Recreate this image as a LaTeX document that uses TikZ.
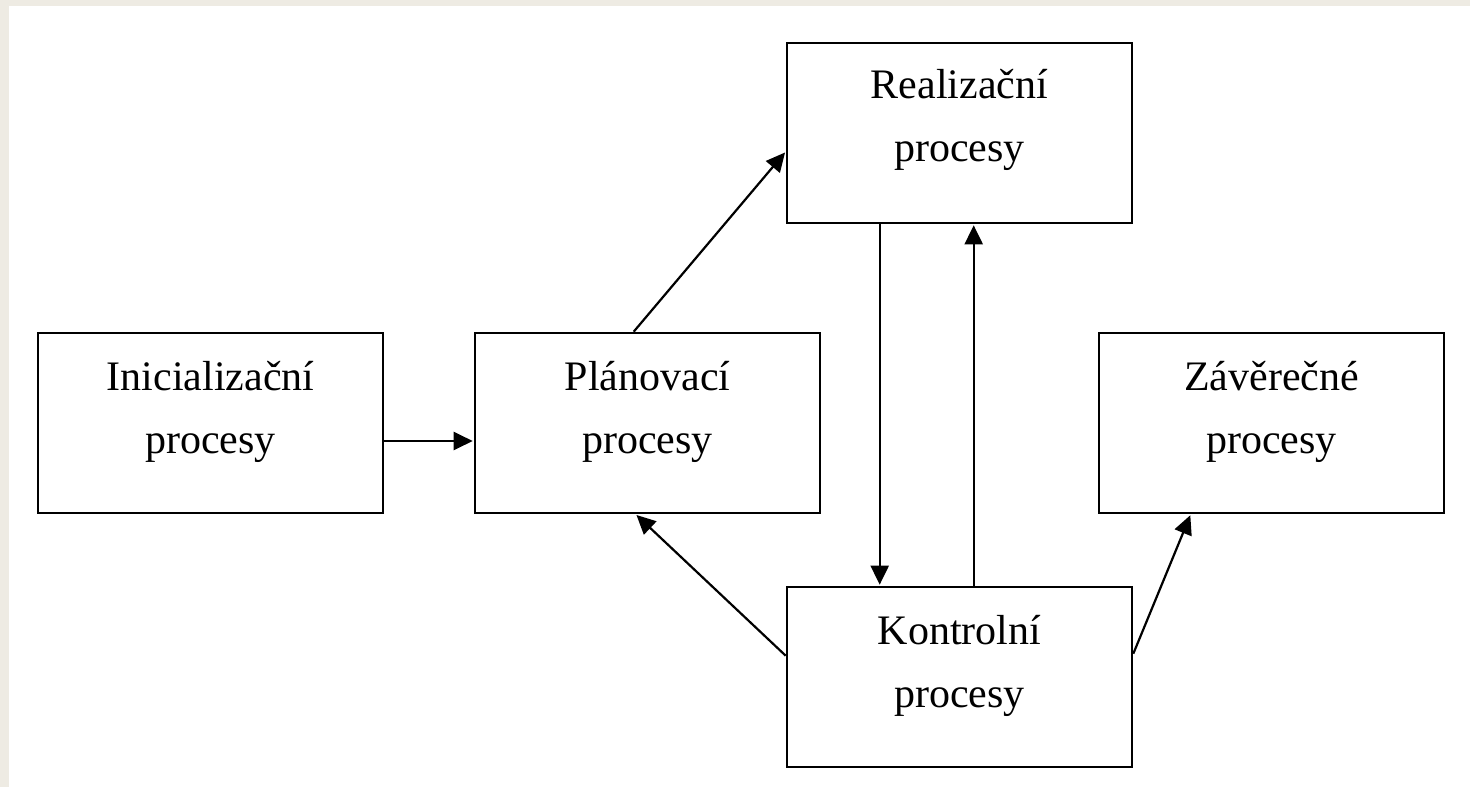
\documentclass[tikz,border=0pt]{standalone}
\usepackage{fontspec}
\setmainfont{Liberation Serif}
\usetikzlibrary{arrows.meta,calc}
\definecolor{beige}{HTML}{EEEBE3}
\tikzset{
  box/.style={draw=black, line width=2.6pt, rectangle, minimum width=345pt, minimum height=180pt, inner sep=0pt},
  lbl/.style={inner sep=0pt, align=center, font=\fontsize{42pt}{63pt}\selectfont, anchor=base},
  arr/.style={draw=black, line width=2.2pt, -{Triangle[length=19pt,width=18pt]}, shorten >=1pt}
}
\begin{document}
\begin{tikzpicture}[x=1pt,y=-1pt]
\useasboundingbox (0,0) rectangle (1470,787);
\fill[beige] (0,0) rectangle (1470,787);
\fill[white] (9,6) rectangle (1470,787);

\node[box] (init) at (210.5,423) {};
\node[box] (plan) at (647.5,423) {};
\node[box] (real) at (959.5,133) {};
\node[box] (kontr) at (959.5,677) {};
\node[box] (zav) at (1271.5,423) {};

\node[lbl] (tinit) at ($(init.north)+(0,122)$) {Inicializační\\procesy};
\node[lbl] (tplan) at ($(plan.north)+(0,122)$) {Plánovací\\procesy};
\node[lbl] (treal) at ($(real.north)+(0,120)$) {Realizační\\procesy};
\node[lbl] (tkontr) at ($(kontr.north)+(0,122)$) {Kontrolní\\procesy};
\node[lbl] (tzav) at ($(zav.north)+(0,122)$) {Závěrečné\\procesy};

% connectors
\draw[arr] (init.east |- 0,441) -- (plan.west |- 0,441);
\draw[arr] ($(plan.north west)+(160,0)$) -- ($(real.north west)+(0,110)$);
\draw[arr] ($(real.south west)+(94,0)$) -- ($(kontr.north west)+(94,0)$);
\draw[arr] ($(kontr.north west)+(188,0)$) -- ($(real.south west)+(188,0)$);
\draw[arr] ($(kontr.north west)+(0,70)$) -- ($(plan.south west)+(162,0)$);
\draw[arr] ($(kontr.north east)+(0,68)$) -- ($(zav.south west)+(93,0)$);
\end{tikzpicture}
\end{document}
